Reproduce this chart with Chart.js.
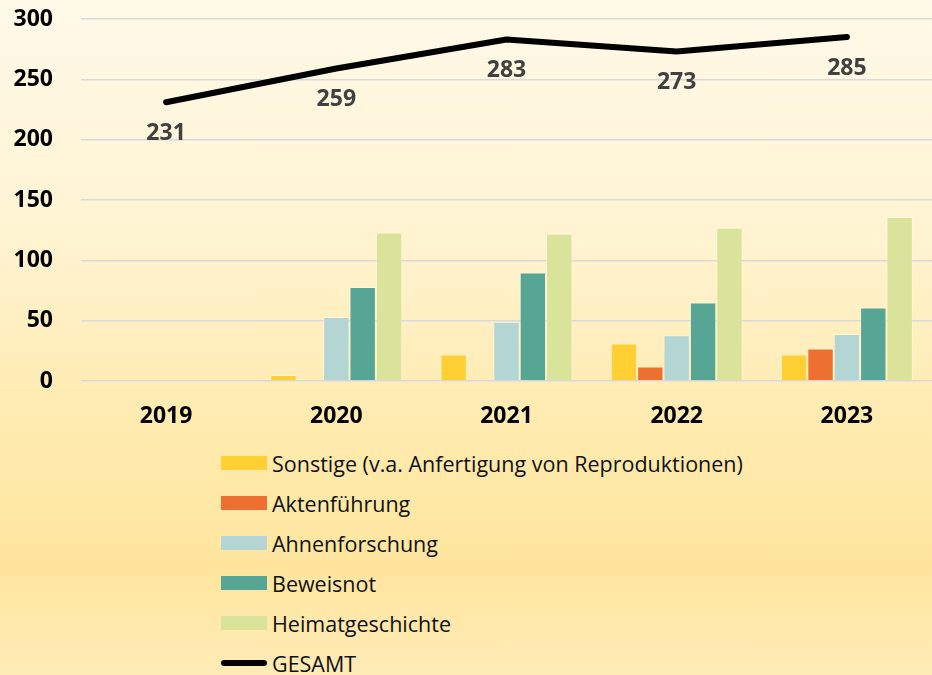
<!DOCTYPE html>
<html>
<head>
<meta charset="utf-8">
<script src="https://cdn.jsdelivr.net/npm/chart.js@4/dist/chart.umd.min.js"></script>
<style>
  html, body { margin: 0; padding: 0; }
  #wrap {
    position: relative; width: 932px; height: 675px; overflow: hidden;
    background: linear-gradient(to bottom, #FFF9E9 0%, #FFF3D1 35%, #FFEBB0 62%, #FFE59E 84%, #FFEBB6 100%);
    font-family: "Open Sans", Lato, sans-serif;
  }
  #cv { position: absolute; left: 0; top: 0; }
  #legend { position: absolute; left: 221px; top: 443px; }
  .item { height: 40px; display: flex; align-items: center; font-size: 21.5px; color: #111; }
  .box { width: 46px; height: 14px; margin-right: 5px; }
  .lineBox { width: 46px; height: 14px; margin-right: 5px; position: relative; }
  .lineBox span { position: absolute; left: 0; right: 0; top: 4px; height: 6px; background: #000; border-radius: 3px; }
</style>
</head>
<body>
<div id="wrap">
  <canvas id="cv" width="932" height="440"></canvas>
  <div id="legend"></div>
</div>
<script>
const categories = ["2019", "2020", "2021", "2022", "2023"];
const sonstige = [null, 5, 22, 31, 22];
const aktenfuehrung = [null, null, null, 12, 27];
const ahnenforschung = [null, 53, 49, 38, 39];
const beweisnot = [null, 78, 90, 65, 61];
const heimatgeschichte = [null, 123, 122, 127, 136];
const gesamt = [231, 259, 283, 273, 285];
const yTicks = [0, 50, 100, 150, 200, 250, 300];

const seriesNames = ["Sonstige (v.a. Anfertigung von Reproduktionen)", "Aktenführung", "Ahnenforschung", "Beweisnot", "Heimatgeschichte", "GESAMT"];
const colors = ["#FFCF33", "#EE7031", "#B3D5D4", "#57A595", "#DAE39A", "#000000"];

const barSeries = [sonstige, aktenfuehrung, ahnenforschung, beweisnot, heimatgeschichte];
const datasets = barSeries.map((vals, i) => ({
  type: 'bar',
  label: seriesNames[i],
  data: vals,
  backgroundColor: colors[i],
  borderColor: 'rgba(255,255,255,0.35)',
  borderWidth: 1,
  order: 1,
  categoryPercentage: 0.775,
  barPercentage: 1.0
}));
datasets.push({
  type: 'line',
  label: seriesNames[5],
  data: gesamt,
  borderColor: colors[5],
  borderWidth: 6,
  borderCapStyle: 'round',
  borderJoinStyle: 'round',
  pointRadius: 0,
  tension: 0,
  order: 0
});

const tickFont = { family: '"Open Sans"', size: 23, weight: 'bold' };

const valueLabels = {
  id: 'valueLabels',
  afterDatasetsDraw(chart) {
    const ctx = chart.ctx;
    chart.data.datasets.forEach((ds, di) => {
      if (ds.type !== 'line') return;
      const meta = chart.getDatasetMeta(di);
      ctx.save();
      ctx.font = 'bold 23px "Open Sans", sans-serif';
      ctx.fillStyle = '#404040';
      ctx.textAlign = 'center';
      ctx.textBaseline = 'middle';
      meta.data.forEach((pt, i) => {
        ctx.fillText(String(ds.data[i]), pt.x, pt.y + 31);
      });
      ctx.restore();
    });
  }
};

const chart = new Chart(document.getElementById('cv'), {
  data: { labels: categories, datasets },
  options: {
    responsive: false,
    maintainAspectRatio: false,
    animation: false,
    layout: { autoPadding: false, padding: { top: 19, right: 0, bottom: 0, left: 0 } },
    plugins: { legend: { display: false }, tooltip: { enabled: false } },
    scales: {
      x: {
        grid: { display: false, drawTicks: false },
        border: { display: false },
        ticks: { color: '#000', font: tickFont, padding: 22 },
        afterFit(s) { s.height = 59; s.paddingLeft = 0; s.paddingRight = 0; }
      },
      y: {
        min: 0, max: 300,
        afterBuildTicks(s) { s.ticks = yTicks.map(v => ({ value: v })); },
        grid: { color: '#D9D9D9', lineWidth: 1.5, drawTicks: false },
        border: { display: false },
        ticks: { color: '#000', font: tickFont, padding: 28 },
        afterFit(s) { s.width = 81; s.paddingTop = 0; s.paddingBottom = 0; }
      }
    }
  },
  plugins: [valueLabels]
});

const legend = document.getElementById('legend');
chart.data.datasets.forEach(ds => {
  const item = document.createElement('div');
  item.className = 'item';
  const b = document.createElement('div');
  if (ds.type === 'line') {
    b.className = 'lineBox';
    b.appendChild(document.createElement('span'));
  } else {
    b.className = 'box';
    b.style.background = ds.backgroundColor;
  }
  const t = document.createElement('span');
  t.textContent = ds.label;
  item.appendChild(b);
  item.appendChild(t);
  legend.appendChild(item);
});
</script>
</body>
</html>
